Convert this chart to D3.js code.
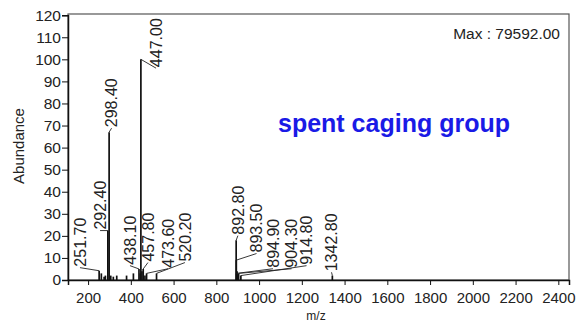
<!DOCTYPE html>
<html><head><meta charset="utf-8">
<script src="https://cdn.jsdelivr.net/npm/d3@7"></script>
<style>
body{margin:0;background:#fff;}
text{font-family:"Liberation Sans",Arial,sans-serif;}
</style></head>
<body><svg id="c" width="577" height="322"></svg>
<script>
// ---- data ----
const peakMz   = [251.7,262,275,281,292.4,298.4,306,318,334,380,412,438.1,444,447.0,452,457.8,466,473.6,520.2,892.8,893.5,894.9,897,900,904.3,914.8,1342.8];
const peakAbund= [4.2,3,1.5,2,22.4,67,2,1.5,2,2,3,5,3,100,4,5,2,3,3,18,9,3,4,2,3,2,2];
const labelText = ["251.70","292.40","298.40","438.10","447.00","457.80","473.60","520.20","892.80","893.50","894.90","904.30","914.80","1342.80"];
const labelPeakMz = [251.7,292.4,298.4,438.1,447.0,457.8,473.6,520.2,892.8,893.5,894.9,904.3,914.8,1342.8];
const labelPeakAb = [4.2,22.4,67,5,100,5,3,3,18,9,3,3,2,2];
// label anchor (text start) in data units
const labelMz   = [162,256,310,396,518,480,574,653,901,988,1065,1152,1222,1339];
const labelAb   = [5.6,22.4,68.8,6.5,96,7.9,5.1,7.9,20.1,12,5.1,5.1,6.5,3.5];
const xTicks = [200,400,600,800,1000,1200,1400,1600,1800,2000,2200,2400];
const yTicks = [0,10,20,30,40,50,60,70,80,90,100,110,120];
const maxText = "Max : 79592.00";
const noteText = "spent caging group";

const svg = d3.select("#c");
const L=68, R=569, T=14, B=280;
const x = d3.scaleLinear().domain([106,2450]).range([L,R]);
const y = d3.scaleLinear().domain([0,120]).range([B,15.2]);

// frame
svg.append("rect").attr("x",L).attr("y",T).attr("width",R-L).attr("height",B-T)
  .attr("fill","none").attr("stroke","#555").attr("stroke-width",1.2);

// axes
const gx = svg.append("g").attr("transform",`translate(0,${B})`)
  .call(d3.axisBottom(x).tickValues(xTicks).tickSize(5).tickPadding(7).tickFormat(d3.format("d")));
gx.select(".domain").attr("stroke","#111").attr("stroke-width",1.5);
gx.selectAll("text").attr("font-size",15).attr("fill","#222").attr("font-family","Liberation Sans, Arial");
const gy = svg.append("g").attr("transform",`translate(${L},0)`)
  .call(d3.axisLeft(y).tickValues(yTicks).tickSize(6).tickPadding(1).tickFormat(d3.format("d")));
gy.select(".domain").attr("stroke","#111").attr("stroke-width",1.5);
gy.selectAll("text").attr("font-size",15.5).attr("fill","#222").attr("font-family","Liberation Sans, Arial");
svg.selectAll(".tick line").attr("stroke","#111");

// peaks
const peaks = peakMz.map((m,i)=>({m,a:peakAbund[i]}));
svg.append("g").selectAll("line").data(peaks).join("line")
  .attr("x1",d=>x(d.m)).attr("x2",d=>x(d.m))
  .attr("y1",y(0)).attr("y2",d=>y(d.a))
  .attr("stroke","#111").attr("stroke-width",1.7);

// labels
const labs = labelText.map((t,i)=>({t,pm:labelPeakMz[i],pa:labelPeakAb[i],lm:labelMz[i],la:labelAb[i]}));
const lg = svg.append("g");
lg.selectAll("line").data(labs).join("line")
  .attr("x1",d=>x(d.pm)).attr("y1",d=>y(d.pa))
  .attr("x2",d=>x(d.lm)).attr("y2",d=>y(d.la))
  .attr("stroke","#222").attr("stroke-width",0.9);
lg.selectAll("text").data(labs).join("text")
  .attr("transform",d=>`translate(${x(d.lm)},${y(d.la)-1}) rotate(-90)`)
  .attr("dy","0.35em").attr("font-size",16).attr("fill","#222")
  .text(d=>d.t);

// axis titles
svg.append("text").attr("x",316).attr("y",320).attr("text-anchor","middle")
  .attr("font-size",12).attr("fill","#222").text("m/z");
svg.append("text").attr("transform","translate(24,146) rotate(-90)").attr("text-anchor","middle")
  .attr("font-size",15).attr("fill","#222").text("Abundance");

svg.append("text").attr("x",560).attr("y",39).attr("text-anchor","end")
  .attr("font-size",15.5).attr("fill","#222").text(maxText);
svg.append("text").attr("x",278).attr("y",132)
  .attr("font-size",25).attr("font-weight","bold").attr("fill","#1a1ae6").text(noteText);
</script></body></html>
